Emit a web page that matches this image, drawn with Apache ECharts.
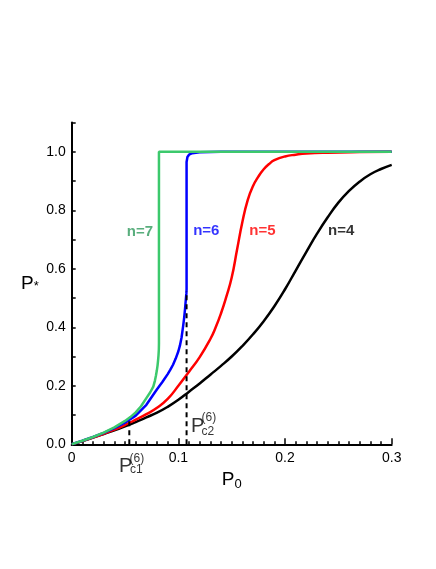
<!DOCTYPE html>
<html>
<head>
<meta charset="utf-8">
<script src="https://cdn.jsdelivr.net/npm/echarts@6/dist/echarts.min.js"></script>
<style>
  html, body { margin: 0; padding: 0; background: #fff; }
  #chart { width: 436px; height: 569px; }
</style>
</head>
<body>
<div id="chart"></div>
<script>
// axis tick labels
const xTickLabels = ['0', '0.1', '0.2', '0.3'];
const yTickLabels = ['0.0', '', '0.2', '', '0.4', '', '0.6', '', '0.8', '', '1.0', ''];

// n = 4 (black)
const p0N4 = [0, 0.01, 0.02, 0.03, 0.04, 0.05, 0.06, 0.07, 0.08, 0.09, 0.10, 0.11, 0.12, 0.13, 0.14, 0.15,
  0.16, 0.17, 0.18, 0.19, 0.20, 0.21, 0.22, 0.23, 0.24, 0.25, 0.26, 0.27, 0.28, 0.29, 0.30];
const pN4 = [0, 0.011, 0.023, 0.035, 0.048, 0.061, 0.076, 0.092, 0.108, 0.128, 0.152, 0.18, 0.208, 0.238, 0.268, 0.3,
  0.336, 0.376, 0.421, 0.472, 0.53, 0.594, 0.658, 0.72, 0.776, 0.826, 0.866, 0.898, 0.923, 0.941, 0.955];

// n = 5 (red)
const p0N5 = [0, 0.01, 0.02, 0.03, 0.04, 0.05, 0.06, 0.07, 0.08, 0.09, 0.10, 0.11, 0.12, 0.13, 0.135, 0.14, 0.145,
  0.15, 0.155, 0.16, 0.165, 0.17, 0.175, 0.18, 0.185, 0.19, 0.20, 0.21, 0.22, 0.24, 0.27, 0.30];
const pN5 = [0, 0.011, 0.023, 0.036, 0.05, 0.066, 0.084, 0.103, 0.125, 0.155, 0.2, 0.248, 0.298, 0.36, 0.4, 0.448, 0.505,
  0.57, 0.665, 0.76, 0.835, 0.883, 0.915, 0.94, 0.958, 0.971, 0.984, 0.99, 0.994, 0.997, 0.999, 1.0];

// n = 6 (blue)
const p0N6 = [0, 0.01, 0.02, 0.03, 0.04, 0.05, 0.06, 0.07, 0.08, 0.085, 0.09, 0.0925, 0.095, 0.0975, 0.10, 0.1015,
  0.103, 0.1045, 0.1055, 0.1063, 0.107, 0.1075, 0.1077, 0.1077, 0.1085, 0.110, 0.113, 0.12, 0.14, 0.2, 0.3];
const pN6 = [0, 0.012, 0.025, 0.039, 0.055, 0.074, 0.098, 0.135, 0.188, 0.213, 0.24, 0.255, 0.272, 0.293, 0.318, 0.338,
  0.365, 0.405, 0.435, 0.465, 0.495, 0.515, 0.53, 0.965, 0.982, 0.99, 0.995, 0.998, 1.0, 1.0, 1.0];

// n = 7 (green)
const p0N7 = [0, 0.01, 0.02, 0.03, 0.04, 0.05, 0.055, 0.06, 0.065, 0.07, 0.0735, 0.0765, 0.078, 0.079, 0.0798, 0.0805,
  0.081, 0.0814, 0.0817, 0.0818, 0.0818, 0.3];
const pN7 = [0, 0.012, 0.025, 0.04, 0.058, 0.08, 0.093, 0.109, 0.13, 0.158, 0.177, 0.197, 0.217, 0.235, 0.252, 0.27,
  0.288, 0.305, 0.325, 0.345, 1.0, 1.0];

// curve labels
const nLabels = ['n=7', 'n=6', 'n=5', 'n=4'];
const nLabelP0 = [0.064, 0.1262, 0.1788, 0.2527];
const nLabelP = [0.727, 0.728, 0.729, 0.728];

// critical points of n=6
const pc1 = 0.054, pc1Top = 0.09;
const pc2 = 0.1077, pc2Top = 0.524;

const fontFamily = "'Liberation Sans', Arial, Helvetica, sans-serif";
const lineColors = ['#3cc96c', '#0000ff', '#ff0000', '#000000'];
const textColors = ['#2f9a5c', '#0000ff', '#ff0000', '#000000'];

function zip(xs, ys) {
  return xs.map((x, i) => [x, ys[i]]);
}

function curve(name, xs, ys, color, smooth) {
  return {
    name: name,
    type: 'line',
    data: zip(xs, ys),
    symbol: 'none',
    smooth: smooth,
    lineStyle: { color: color, width: 2.5 },
    z: 3
  };
}

function dashed(x, top) {
  return {
    type: 'line',
    data: [[x, 0], [x, top]],
    symbol: 'none',
    lineStyle: { color: '#000', width: 2, type: [5, 4] },
    z: 4
  };
}

// P_c label pieces: [text, size, dx, dy] relative to the critical point on the axis
function pcLabel(x, sub, pieces) {
  return pieces.map(([text, size, dx, dy]) => ({
    value: [x, 0],
    label: {
      show: true,
      position: 'inside',
      formatter: text === 'sub' ? sub : text,
      fontSize: size,
      fontFamily: fontFamily,
      color: '#000',
      align: 'left',
      verticalAlign: 'middle',
      offset: [dx, dy]
    }
  }));
}

const chart = echarts.init(document.getElementById('chart'));

const option = {
  animation: false,
  backgroundColor: '#fff',
  textStyle: { fontFamily: fontFamily },
  grid: {
    left: 71.7,
    right: 44.3,
    top: 122.5,
    bottom: 124.7
  },
  xAxis: {
    type: 'value',
    min: 0,
    max: 0.3,
    interval: 0.1,
    name: '{p|P}{s|0}',
    nameLocation: 'middle',
    nameGap: 20,
    nameTextStyle: {
      rich: {
        p: { fontSize: 19, color: '#000', fontFamily: fontFamily, lineHeight: 19, verticalAlign: 'bottom' },
        s: { fontSize: 13, color: '#000', fontFamily: fontFamily, lineHeight: 13, verticalAlign: 'bottom', padding: [0, 0, -2, 0] }
      }
    },
    axisLine: { lineStyle: { color: '#000', width: 2 } },
    axisTick: { inside: true, length: 6, lineStyle: { color: '#000', width: 1.5 } },
    minorTick: { show: true, splitNumber: 10, length: 3, lineStyle: { color: '#000', width: 1.5 } },
    splitLine: { show: false },
    axisLabel: {
      fontSize: 14,
      color: '#000',
      margin: 7,
      formatter: (v, i) => xTickLabels[i]
    }
  },
  yAxis: {
    type: 'value',
    min: 0,
    max: 1.1,
    interval: 0.1,
    name: '{p|P}{s|*}',
    nameLocation: 'middle',
    nameRotate: 0,
    nameGap: 33,
    nameTextStyle: {
      rich: {
        p: { fontSize: 19, color: '#000', fontFamily: fontFamily, lineHeight: 19, verticalAlign: 'bottom' },
        s: { fontSize: 13, color: '#000', fontFamily: fontFamily, lineHeight: 13, verticalAlign: 'bottom' }
      }
    },
    axisLine: { show: true, lineStyle: { color: '#000', width: 2 } },
    axisTick: { inside: true, length: 4, lineStyle: { color: '#000', width: 1.5 } },
    splitLine: { show: false },
    axisLabel: {
      fontSize: 14,
      color: '#000',
      margin: 6,
      showMaxLabel: true,
      formatter: (v, i) => yTickLabels[i]
    }
  },
  series: [
    curve('n=4', p0N4, pN4, lineColors[3], 0.5),
    curve('n=5', p0N5, pN5, lineColors[2], 0.5),
    curve('n=6', p0N6, pN6, lineColors[1], false),
    curve('n=7', p0N7, pN7, lineColors[0], false),
    dashed(pc1, pc1Top),
    dashed(pc2, pc2Top),
    {
      type: 'scatter',
      symbolSize: 0,
      clip: false,
      silent: true,
      z: 5,
      data: nLabels.map((t, i) => ({
        value: [nLabelP0[i], nLabelP[i]],
        label: {
          show: true,
          position: 'inside',
          formatter: t,
          fontSize: 15,
          fontWeight: 'bold',
          fontFamily: fontFamily,
          color: textColors[i]
        }
      })).concat(
        pcLabel(pc1, 'c1', [['P', 20, -10.3, 21.7], ['(6)', 12, 0.2, 14.2], ['sub', 12, 0.7, 25.7]]),
        pcLabel(pc2, 'c2', [['P', 20, 4.4, -18.3], ['(6)', 12, 15, -26.3], ['sub', 12, 15, -12.3]])
      )
    }
  ]
};

chart.setOption(option);
</script>
</body>
</html>
